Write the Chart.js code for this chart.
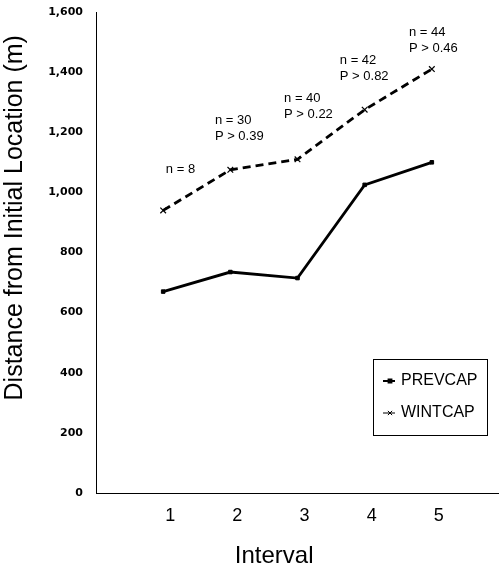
<!DOCTYPE html>
<html><head><meta charset="utf-8">
<script src="https://cdn.jsdelivr.net/npm/chart.js@4"></script>
<style>html,body{margin:0;padding:0;background:#fff}#wrap{width:499px;height:571px}</style>
</head><body><div id="wrap"><canvas id="c" width="499" height="571"></canvas></div>
<script>
const intervals = [1, 2, 3, 4, 5];
const prevcap = [670, 735, 715, 1025, 1100];
const wintcap = [940, 1075, 1110, 1275, 1410];
const seriesNames = ["PREVCAP", "WINTCAP"];
const noteLines = [["n = 8"], ["n = 30", "P > 0.39"], ["n = 40", "P > 0.22"], ["n = 42", "P > 0.82"], ["n = 44", "P > 0.46"]];
const noteX = [1.04, 1.77, 2.80, 3.63, 4.66];
const noteY = [1076, 1239, 1312, 1438, 1532];
const yTitle = "Distance from Initial Location (m)";
const xTitle = "Interval";

const FONT = '"Liberation Sans", Arial, sans-serif';

const notesPlugin = {
  id: 'notes',
  afterDraw(chart) {
    const {ctx, scales: {x, y}} = chart;
    ctx.save();
    ctx.font = '13px ' + FONT;
    ctx.fillStyle = '#000';
    ctx.textBaseline = 'middle';
    ctx.textAlign = 'left';
    noteLines.forEach((lines, i) => {
      const px = x.getPixelForValue(noteX[i]);
      const py = y.getPixelForValue(noteY[i]);
      lines.forEach((t, j) => ctx.fillText(t, px, py + j * 16));
    });
    ctx.restore();
  }
};

const legendPlugin = {
  id: 'boxLegend',
  afterDraw(chart) {
    const {ctx, chartArea} = chart;
    const bx = chartArea.right - 126, by = 359, bw = 114, bh = 76;
    ctx.save();
    ctx.strokeStyle = '#000';
    ctx.lineWidth = 1;
    ctx.strokeRect(bx + 0.5, by + 0.5, bw, bh);
    ctx.font = '16px ' + FONT;
    ctx.fillStyle = '#000';
    ctx.textBaseline = 'middle';
    ctx.textAlign = 'left';
    chart.data.datasets.forEach((ds, i) => {
      const ry = by + 22 + i * 32;
      ctx.beginPath();
      ctx.setLineDash([]);
      ctx.lineWidth = i === 0 ? 2 : 1;
      ctx.moveTo(bx + 10, ry);
      ctx.lineTo(bx + 22, ry);
      ctx.stroke();
      Chart.helpers.drawPoint(ctx, {pointStyle: ds.pointStyle, radius: i === 0 ? 2 : 3, borderWidth: 1}, bx + 17, ry);
      ctx.fillText(ds.label, bx + 28, ry);
    });
    ctx.restore();
  }
};

new Chart(document.getElementById('c'), {
  type: 'line',
  data: {
    datasets: [
      {
        label: seriesNames[0],
        data: intervals.map((v, i) => ({x: v, y: prevcap[i]})),
        borderColor: '#000', backgroundColor: '#000',
        borderWidth: 2.8, pointStyle: 'rect', pointRadius: 2.5,
        pointBorderWidth: 1, tension: 0
      },
      {
        label: seriesNames[1],
        data: intervals.map((v, i) => ({x: v, y: wintcap[i]})),
        borderColor: '#000', backgroundColor: '#000',
        borderWidth: 2.8, borderDash: [8, 5], pointStyle: 'crossRot', pointRadius: 4,
        pointBorderWidth: 1.2, tension: 0
      }
    ]
  },
  options: {
    responsive: false,
    animation: false,
    layout: {autoPadding: false, padding: {left: 0, top: 12, right: 0, bottom: 0}},
    plugins: {legend: {display: false}, tooltip: {enabled: false}},
    scales: {
      x: {
        type: 'linear', min: 0, max: 6,
        afterFit(s) { s.height = 78; s.paddingLeft = 0; s.paddingRight = 0; },
        afterBuildTicks(s) { s.ticks = intervals.map(v => ({value: v})); },
        grid: {display: false, drawTicks: false},
        border: {display: true, color: '#000', width: 1},
        ticks: {color: '#000', font: {family: FONT, size: 18}, padding: 12, labelOffset: 7, autoSkip: false, maxRotation: 0},
        title: {display: true, text: xTitle + '\u00a0\u00a0\u00a0\u00a0\u00a0\u00a0\u00a0', color: '#000', font: {family: FONT, size: 24}, padding: {top: 0, bottom: 0}}
      },
      y: {
        min: 0, max: 1600,
        afterFit(s) { s.width = 96; s.paddingTop = 0; s.paddingBottom = 0; },
        grid: {display: false, drawTicks: false},
        border: {display: true, color: '#000', width: 1},
        ticks: {stepSize: 200, color: '#000', padding: 13, font: {family: '"DejaVu Sans", sans-serif', size: 11, weight: 'bold'},
          callback: v => v.toLocaleString('en-US')},
        title: {display: true, text: '\u00a0\u00a0\u00a0\u00a0\u00a0\u00a0\u00a0\u00a0\u00a0\u00a0' + yTitle, color: '#000', font: {family: FONT, size: 25}, padding: {top: 0, bottom: 0}}
      }
    }
  },
  plugins: [notesPlugin, legendPlugin]
});
</script>
</body></html>
